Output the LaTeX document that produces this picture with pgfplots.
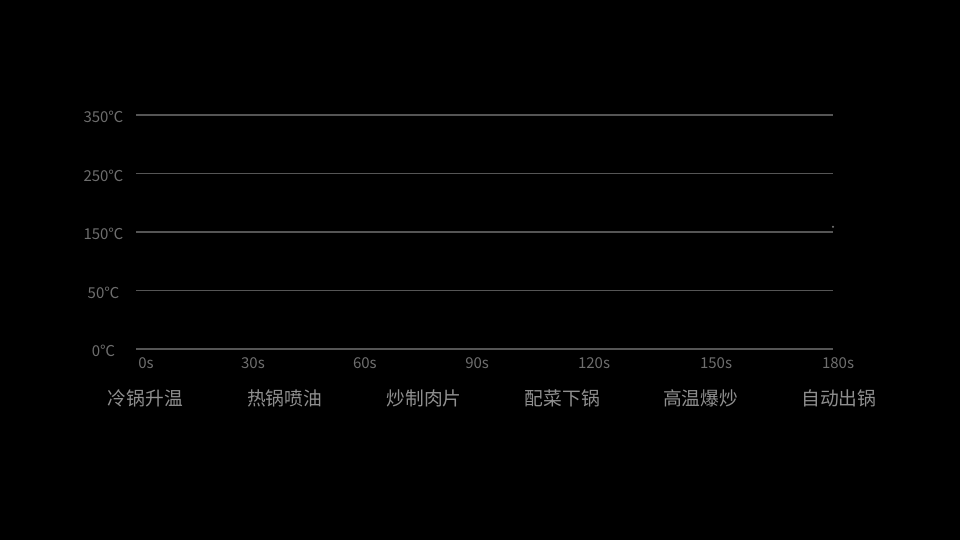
\documentclass[border=0pt]{standalone}
\usepackage{pgfplots}
\pgfplotsset{compat=1.18}
\usepackage{fontspec}
\setmainfont{Noto Sans CJK SC}
\definecolor{bg}{HTML}{000000}
\definecolor{gridc}{HTML}{555555}
\definecolor{tickc}{HTML}{6E6E6E}
\definecolor{catc}{HTML}{8F8F8F}
\newcommand{\tickfont}{\fontsize{15bp}{18bp}\selectfont}
\newcommand{\catfont}{\fontsize{18.75bp}{22bp}\selectfont}
\begin{document}
\begin{tikzpicture}
\fill[bg] (0,0) rectangle (960bp,540bp);
\begin{axis}[
    at={(136bp,191bp)}, anchor=south west,
    scale only axis, width=697bp, height=234bp,
    xmin=0, xmax=180, ymin=0, ymax=4,
    axis line style={draw=none},
    major tick length=0pt,
    xtick=\empty,
    ytick={0,1,2,3,4},
    yticklabels={0℃,50℃,150℃,250℃,350℃},
    yticklabel style={font=\tickfont, text=tickc, anchor=base, inner sep=0pt, xshift=-32.5bp, yshift=-8bp},
    ymajorgrids,
    grid style={draw=gridc, line width=1.3bp},
    clip=false,
]
% time labels
\node[font=\tickfont, text=tickc, anchor=base, inner sep=0pt, yshift=-20bp] at (axis cs:2.6,0) {0s};
\node[font=\tickfont, text=tickc, anchor=base, inner sep=0pt, yshift=-20bp] at (axis cs:30.2,0) {30s};
\node[font=\tickfont, text=tickc, anchor=base, inner sep=0pt, yshift=-20bp] at (axis cs:59.1,0) {60s};
\node[font=\tickfont, text=tickc, anchor=base, inner sep=0pt, yshift=-20bp] at (axis cs:88.1,0) {90s};
\node[font=\tickfont, text=tickc, anchor=base, inner sep=0pt, yshift=-20bp] at (axis cs:118.3,0) {120s};
\node[font=\tickfont, text=tickc, anchor=base, inner sep=0pt, yshift=-20bp] at (axis cs:149.8,0) {150s};
\node[font=\tickfont, text=tickc, anchor=base, inner sep=0pt, yshift=-20bp] at (axis cs:181.3,0) {180s};
% stage labels
\node[font=\catfont, text=catc, anchor=base, inner sep=0pt, yshift=-57bp] at (axis cs:2.45,0) {冷锅升温};
\node[font=\catfont, text=catc, anchor=base, inner sep=0pt, yshift=-57bp] at (axis cs:38.35,0) {热锅喷油};
\node[font=\catfont, text=catc, anchor=base, inner sep=0pt, yshift=-57bp] at (axis cs:74.4,0) {炒制肉片};
\node[font=\catfont, text=catc, anchor=base, inner sep=0pt, yshift=-57bp] at (axis cs:110.1,0) {配菜下锅};
\node[font=\catfont, text=catc, anchor=base, inner sep=0pt, yshift=-57bp] at (axis cs:145.8,0) {高温爆炒};
\node[font=\catfont, text=catc, anchor=base, inner sep=0pt, yshift=-57bp] at (axis cs:181.5,0) {自动出锅};
% the only visible data point
\addplot[only marks, mark=*, mark size=0.8bp, color=tickc] coordinates {(180,2.09)};
\end{axis}
\end{tikzpicture}
\end{document}
